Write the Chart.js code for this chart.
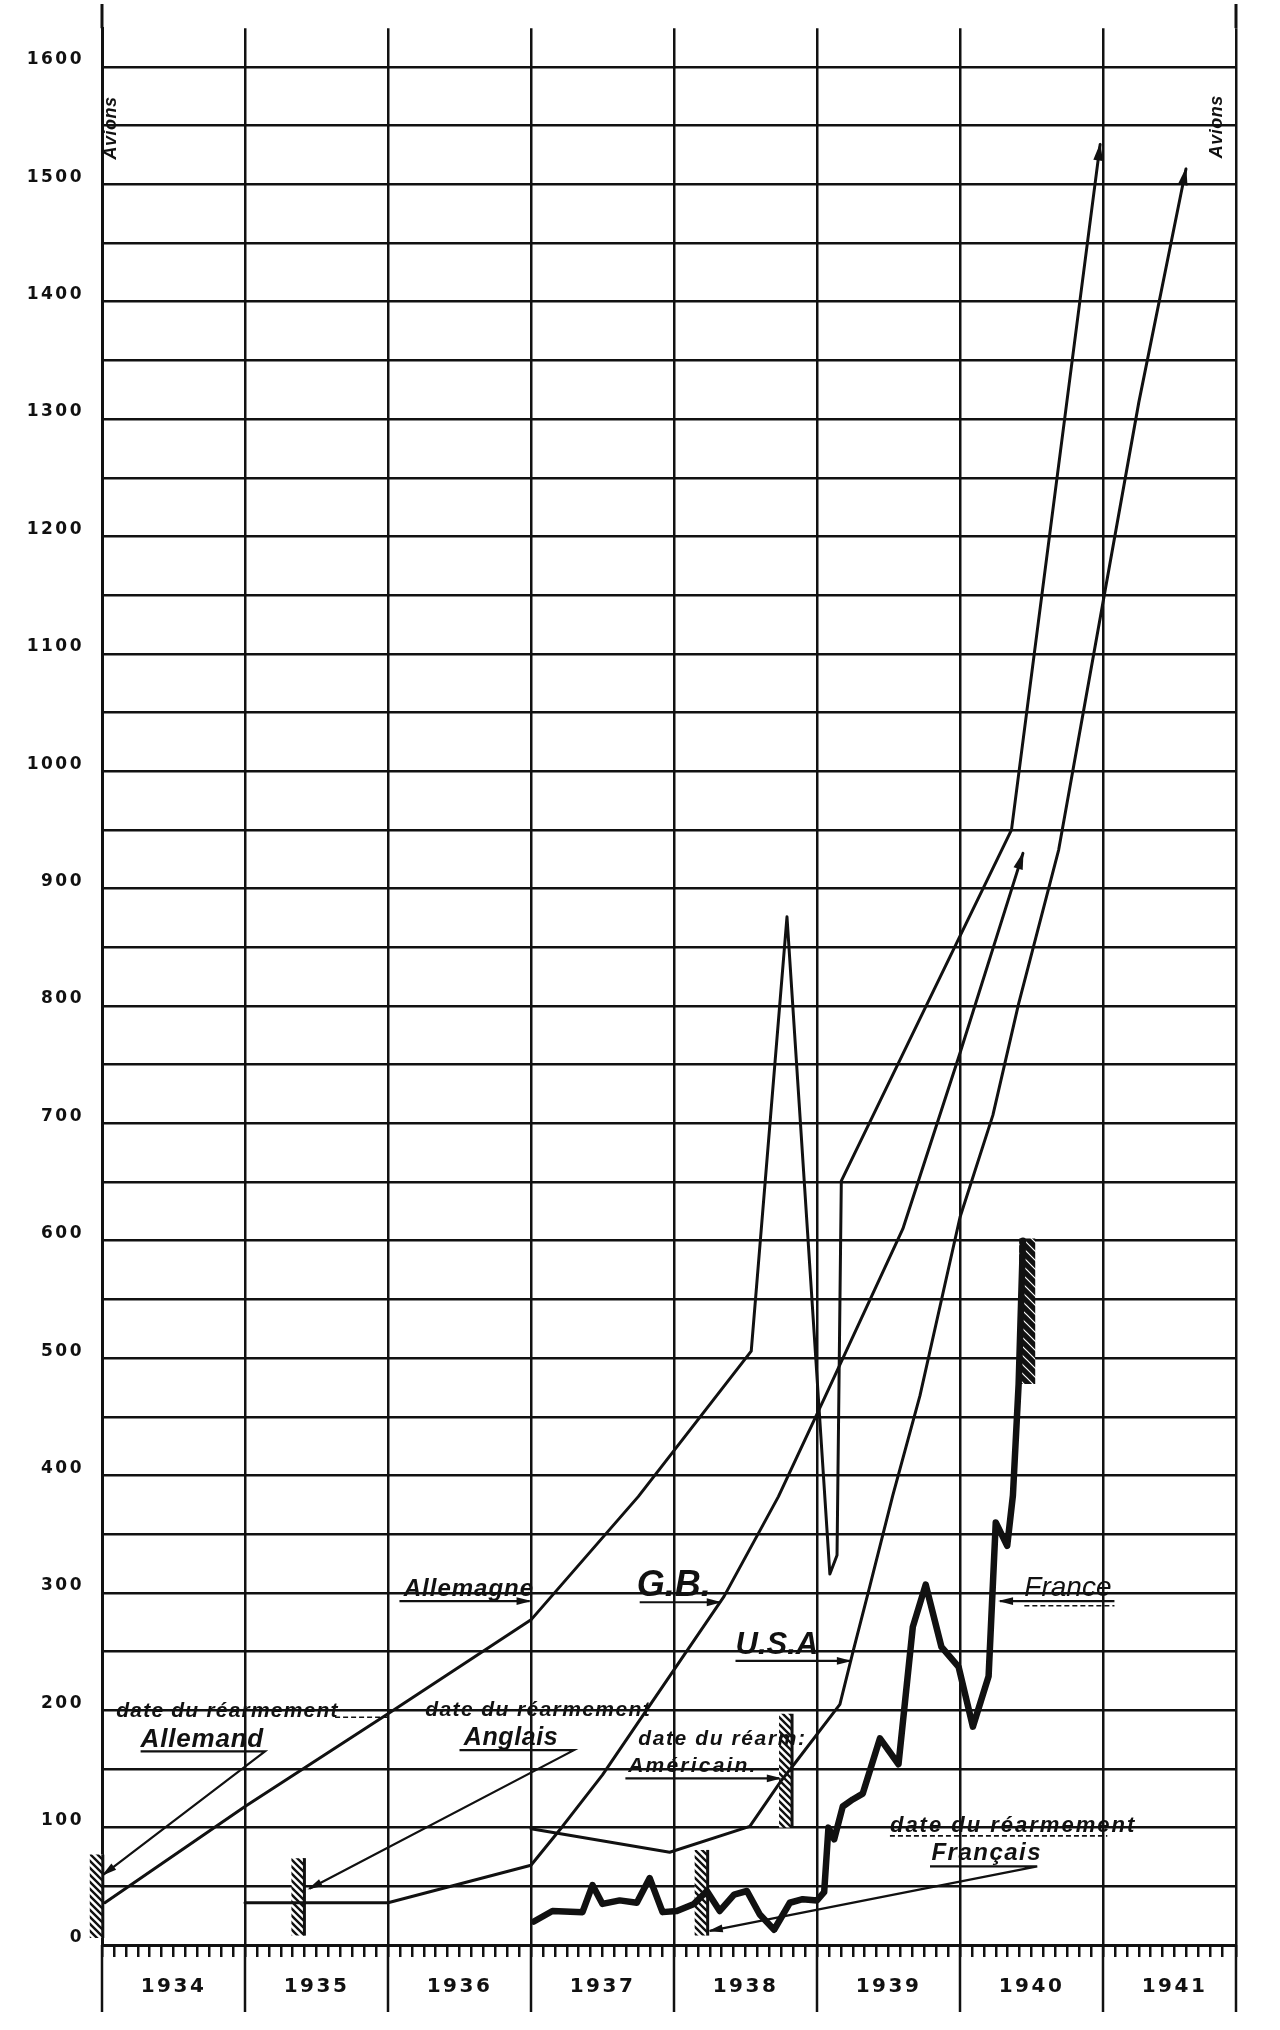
<!DOCTYPE html>
<html>
<head>
<meta charset="utf-8">
<title>Avions</title>
<script src="https://cdn.jsdelivr.net/npm/chart.js@4.4.1/dist/chart.umd.min.js"></script>
<style>
  html, body { margin: 0; padding: 0; background: #fff; }
  canvas { display: block; }
</style>
</head>
<body>
<canvas id="chart1" width="1280" height="2030"></canvas>
<script>
// x = année en décimal (1937.5 = milieu de 1937), y = avions
const yearLabels = ['1934', '1935', '1936', '1937', '1938', '1939', '1940', '1941'];
const yTickValues = [0, 100, 200, 300, 400, 500, 600, 700, 800, 900, 1000, 1100, 1200, 1300, 1400, 1500, 1600];

const germanyYears = [1934.02, 1935.0, 1936.0, 1937.0, 1937.75, 1938.54, 1938.79, 1939.09, 1939.14, 1939.17, 1940.36, 1940.98];
const germanyValues = [36, 118, 197, 277, 382, 506, 876, 316, 332, 651, 950, 1534];

const gbYears = [1935.0, 1936.0, 1937.0, 1937.22, 1937.5, 1937.74, 1938.07, 1938.35, 1938.73, 1939.06, 1939.6, 1940.0, 1940.44];
const gbValues = [36, 36, 68, 101, 145, 188, 247, 297, 382, 468, 610, 760, 930];

const usaYears = [1937.0, 1937.97, 1938.53, 1938.75, 1938.84, 1939.16, 1939.25, 1939.37, 1939.53, 1939.72, 1940.0, 1940.23, 1940.41, 1940.69, 1941.25, 1941.58];
const usaValues = [99, 79, 101, 140, 154, 205, 249, 306, 383, 468, 620, 707, 802, 933, 1314, 1513];

const franceYears = [1937.02, 1937.15, 1937.36, 1937.43, 1937.5, 1937.62, 1937.74, 1937.83, 1937.92, 1938.02,
  1938.14, 1938.23, 1938.32, 1938.42, 1938.51, 1938.6, 1938.7, 1938.81, 1938.9, 1939.0,
  1939.05, 1939.08, 1939.12, 1939.18, 1939.25, 1939.32, 1939.44, 1939.57, 1939.67, 1939.76,
  1939.87, 1939.99, 1940.09, 1940.2, 1940.25, 1940.33, 1940.37, 1940.41, 1940.44];
const franceValues = [20, 29, 28, 51, 35, 38, 36, 57, 28, 29,
  35, 46, 29, 43, 46, 26, 13, 36, 39, 38,
  45, 100, 90, 118, 124, 129, 176, 154, 271, 307,
  254, 237, 186, 229, 360, 340, 383, 478, 600];

// dates du réarmement (barres hachurées)
const rearmNames = ['Allemand', 'Anglais', 'Français', 'Américain', 'France 1940'];
const rearmYears = [1933.96, 1935.37, 1938.19, 1938.78, 1940.47];
const rearmLow = [6, 8, 8, 100, 478];
const rearmHigh = [77, 74, 81, 197, 602];

// flèches des légendes écrites à la main
const arrowLines = [
  { name: 'Allemand', xs: [1934.27, 1935.14, 1934.01], ys: [165, 165, 60] },
  { name: 'Anglais', xs: [1936.5, 1937.3, 1935.45], ys: [166, 166, 48] },
  { name: 'Américain', xs: [1937.66, 1938.74], ys: [142, 142] },
  { name: 'Français', xs: [1939.79, 1940.54, 1938.25], ys: [67, 67, 12] },
  { name: 'Allemagne', xs: [1936.08, 1936.99], ys: [293, 293] },
  { name: 'G.B.', xs: [1937.76, 1938.32], ys: [292, 292] },
  { name: 'USA', xs: [1938.43, 1939.23], ys: [242, 242] },
  { name: 'France', xs: [1941.08, 1940.28], ys: [293, 293] }
];

// traits pointillés qui prolongent certaines légendes
const leaderLines = [
  { name: 'Allemand', xs: [1935.63, 1936.0], ys: [194, 194] },
  { name: 'Français', xs: [1939.51, 1941.03], ys: [93, 93] },
  { name: 'France', xs: [1940.45, 1941.08], ys: [289, 289] }
];

const xMax = 1941.93;
const ink = '#111';

const notes = [
  { x: 1934.1, y: 194, text: 'date du réarmement', font: 'italic bold 21px "Liberation Sans"', spacing: 1.2 },
  { x: 1934.27, y: 169, text: 'Allemand', font: 'italic bold 26px "Liberation Sans"', spacing: 0.8 },
  { x: 1936.26, y: 195, text: 'date du réarmement', font: 'italic bold 21px "Liberation Sans"', spacing: 1.4 },
  { x: 1936.53, y: 170, text: 'Anglais', font: 'italic bold 25px "Liberation Sans"', spacing: 0.6 },
  { x: 1937.75, y: 170, text: 'date du réarm:', font: 'italic bold 21px "Liberation Sans"', spacing: 1.6 },
  { x: 1937.68, y: 147, text: 'Américain.', font: 'italic bold 21px "Liberation Sans"', spacing: 2.2 },
  { x: 1939.51, y: 96, text: 'date du réarmement', font: 'italic bold 22px "Liberation Sans"', spacing: 2 },
  { x: 1939.8, y: 72, text: 'Français', font: 'italic bold 24px "Liberation Sans"', spacing: 1.5 },
  { x: 1936.11, y: 297, text: 'Allemagne', font: 'italic bold 24px "Liberation Sans"', spacing: 1 },
  { x: 1937.74, y: 297, text: 'G.B.', font: 'italic bold 36px "Liberation Sans"', spacing: 0 },
  { x: 1938.43, y: 248, text: 'U.S.A', font: 'italic bold 31px "Liberation Sans"', spacing: 0 },
  { x: 1940.45, y: 297, text: 'France', font: 'italic 28px "Liberation Sans"', spacing: 0 },
  { x: 1934.06, y: 1548, text: 'Avions', font: 'italic bold 18px "Liberation Sans"', spacing: 0.5, rotate: true },
  { x: 1941.8, y: 1549, text: 'Avions', font: 'italic bold 18px "Liberation Sans"', spacing: 0.5, rotate: true }
];

function toPoints(xs, ys) {
    return xs.map((x, i) => ({ x: x, y: ys[i] }));
}

function hatch(fg, bg, size, width) {
    const c = document.createElement('canvas');
    c.width = size;
    c.height = size;
    const g = c.getContext('2d');
    g.fillStyle = bg;
    g.fillRect(0, 0, size, size);
    g.strokeStyle = fg;
    g.lineWidth = width;
    g.beginPath();
    g.moveTo(-1, -1); g.lineTo(size + 1, size + 1);
    g.moveTo(-1, size - 1); g.lineTo(1, size + 1);
    g.moveTo(size - 1, -1); g.lineTo(size + 1, 1);
    g.stroke();
    return g.createPattern(c, 'repeat');
}

const lightHatch = hatch(ink, '#fff', 7, 2.4);
const darkHatch = hatch('#fff', ink, 9, 1.2);

function seriesLine(label, xs, ys, width, arrow) {
    return {
        label: label,
        data: toPoints(xs, ys),
        borderColor: ink,
        borderWidth: width,
        borderJoinStyle: 'round',
        borderCapStyle: 'round',
        pointRadius: 0,
        tension: 0,
        fill: false,
        arrow: arrow
    };
}

const datasets = [
    seriesLine('Allemagne', germanyYears, germanyValues, 3, 16),
    seriesLine('G.B.', gbYears, gbValues, 3, 16),
    seriesLine('USA', usaYears, usaValues, 3, 16),
    seriesLine('France', franceYears, franceValues, 6.5, 0)
];

rearmYears.forEach((yr, i) => {
    const last = i === rearmYears.length - 1;
    datasets.push({
        label: 'réarmement ' + rearmNames[i],
        data: [{ x: yr, y: rearmLow[i] }, { x: yr, y: rearmHigh[i] }],
        borderColor: last ? darkHatch : lightHatch,
        borderWidth: last ? 16 : 13,
        borderCapStyle: 'butt',
        pointRadius: 0,
        clip: false,
        edge: !last
    });
});

arrowLines.forEach(a => {
    datasets.push({
        label: 'flèche ' + a.name,
        data: toPoints(a.xs, a.ys),
        borderColor: ink,
        borderWidth: 2.2,
        borderJoinStyle: 'miter',
        pointRadius: 0,
        tension: 0,
        arrow: 13
    });
});

leaderLines.forEach(a => {
    datasets.push({
        label: 'pointillé ' + a.name,
        data: toPoints(a.xs, a.ys),
        borderColor: ink,
        borderWidth: 1.6,
        borderDash: [5, 3],
        pointRadius: 0,
        tension: 0
    });
});

const inkPlugin = {
    id: 'ink',
    beforeDraw(chart) {
        chart.ctx.letterSpacing = '2.5px';
    },
    afterDatasetsDraw(chart) {
        const ctx = chart.ctx;
        const x = chart.scales.x;
        const y = chart.scales.y;
        ctx.save();
        chart.data.datasets.forEach((ds, i) => {
            const pts = chart.getDatasetMeta(i).data;
            if (ds.edge) {
                const half = ds.borderWidth / 2;
                ctx.strokeStyle = ink;
                ctx.lineWidth = 3;
                ctx.beginPath();
                ctx.moveTo(pts[0].x + half, pts[0].y);
                ctx.lineTo(pts[1].x + half, pts[1].y);
                ctx.stroke();
            }
            if (ds.arrow) {
                const a = pts[pts.length - 2];
                const b = pts[pts.length - 1];
                const ang = Math.atan2(b.y - a.y, b.x - a.x);
                const L = ds.arrow;
                const W = L * 0.3;
                const cx = b.x - L * Math.cos(ang);
                const cy = b.y - L * Math.sin(ang);
                ctx.fillStyle = ink;
                ctx.beginPath();
                ctx.moveTo(b.x + 2 * Math.cos(ang), b.y + 2 * Math.sin(ang));
                ctx.lineTo(cx + W * Math.sin(ang), cy - W * Math.cos(ang));
                ctx.lineTo(cx - W * Math.sin(ang), cy + W * Math.cos(ang));
                ctx.closePath();
                ctx.fill();
            }
        });

        ctx.fillStyle = ink;
        ctx.textBaseline = 'alphabetic';
        notes.forEach(n => {
            const px = x.getPixelForValue(n.x);
            const py = y.getPixelForValue(n.y);
            ctx.font = n.font;
            ctx.letterSpacing = n.spacing + 'px';
            if (n.rotate) {
                ctx.save();
                ctx.translate(px, py);
                ctx.rotate(-Math.PI / 2);
                ctx.textAlign = 'center';
                ctx.textBaseline = 'middle';
                ctx.fillText(n.text, 0, 0);
                ctx.restore();
            } else {
                ctx.textAlign = 'left';
                ctx.fillText(n.text, px, py);
            }
        });
        ctx.restore();
    },
    afterDraw(chart) {
        const ctx = chart.ctx;
        const x = chart.scales.x;
        const area = chart.chartArea;
        ctx.save();
        ctx.strokeStyle = ink;
        ctx.lineWidth = 2.5;
        // séparations des années dans la bande des étiquettes
        const cuts = yearLabels.map(l => Number(l)).concat([xMax]);
        cuts.forEach(v => {
            const px = x.getPixelForValue(v);
            ctx.beginPath();
            ctx.moveTo(px, area.bottom);
            ctx.lineTo(px, area.bottom + 67);
            ctx.stroke();
        });
        // les deux montants du cadre montent jusqu'en haut
        [Number(yearLabels[0]), xMax].forEach(v => {
            const px = x.getPixelForValue(v);
            ctx.lineWidth = 3;
            ctx.beginPath();
            ctx.moveTo(px, area.top);
            ctx.lineTo(px, 4);
            ctx.stroke();
        });
        ctx.restore();
        chart.ctx.letterSpacing = '0px';
    }
};

const ctx1 = document.getElementById('chart1').getContext('2d');

const chart1 = new Chart(ctx1, {
    type: 'line',
    data: { datasets: datasets },
    options: {
        responsive: false,
        animation: false,
        layout: { padding: { top: 25, right: 44, left: 0, bottom: 0 } },
        plugins: {
            legend: { display: false },
            tooltip: { enabled: false }
        },
        scales: {
            x: {
                type: 'linear',
                min: Number(yearLabels[0]),
                max: xMax,
                afterBuildTicks: function (scale) {
                    const t = [];
                    for (let i = 0; i < yearLabels.length * 12; i++) {
                        const v = Number(yearLabels[0]) + i / 12;
                        if (v < xMax - 0.02) t.push({ value: v });
                    }
                    t.push({ value: xMax });
                    scale.ticks = t;
                },
                afterFit: function (scale) { scale.height = 85; },
                ticks: {
                    autoSkip: false,
                    maxRotation: 0,
                    padding: 18,
                    color: ink,
                    font: { family: 'DejaVu Sans', weight: 'bold', size: 20 },
                    callback: function (v, i) {
                        return i % 12 === 6 ? yearLabels[Math.floor(i / 12)] : '';
                    }
                },
                grid: {
                    color: function (c) {
                        const v = c.tick ? c.tick.value : 0;
                        const isYear = Math.abs(v - Math.round(v)) < 0.001 || Math.abs(v - xMax) < 0.001;
                        return isYear ? ink : 'rgba(0,0,0,0)';
                    },
                    lineWidth: 2.5,
                    tickColor: ink,
                    tickLength: 12,
                    tickWidth: 2.5
                },
                border: { color: ink, width: 3 }
            },
            y: {
                type: 'linear',
                min: 0,
                max: 1633,
                afterBuildTicks: function (scale) {
                    const t = [];
                    yTickValues.forEach((v, i) => {
                        t.push({ value: v });
                        if (i < yTickValues.length - 1) t.push({ value: v + 50 });
                    });
                    scale.ticks = t;
                },
                afterFit: function (scale) { scale.width = 102; },
                ticks: {
                    autoSkip: false,
                    padding: 18,
                    labelOffset: -7,
                    color: ink,
                    font: { family: 'DejaVu Sans', weight: 'bold', size: 17 },
                    callback: function (v) {
                        return yTickValues.includes(v) ? String(v) : '';
                    }
                },
                grid: {
                    color: ink,
                    lineWidth: 2.5,
                    drawTicks: false
                },
                border: { color: ink, width: 3 }
            }
        }
    },
    plugins: [inkPlugin]
});
</script>
</body>
</html>
